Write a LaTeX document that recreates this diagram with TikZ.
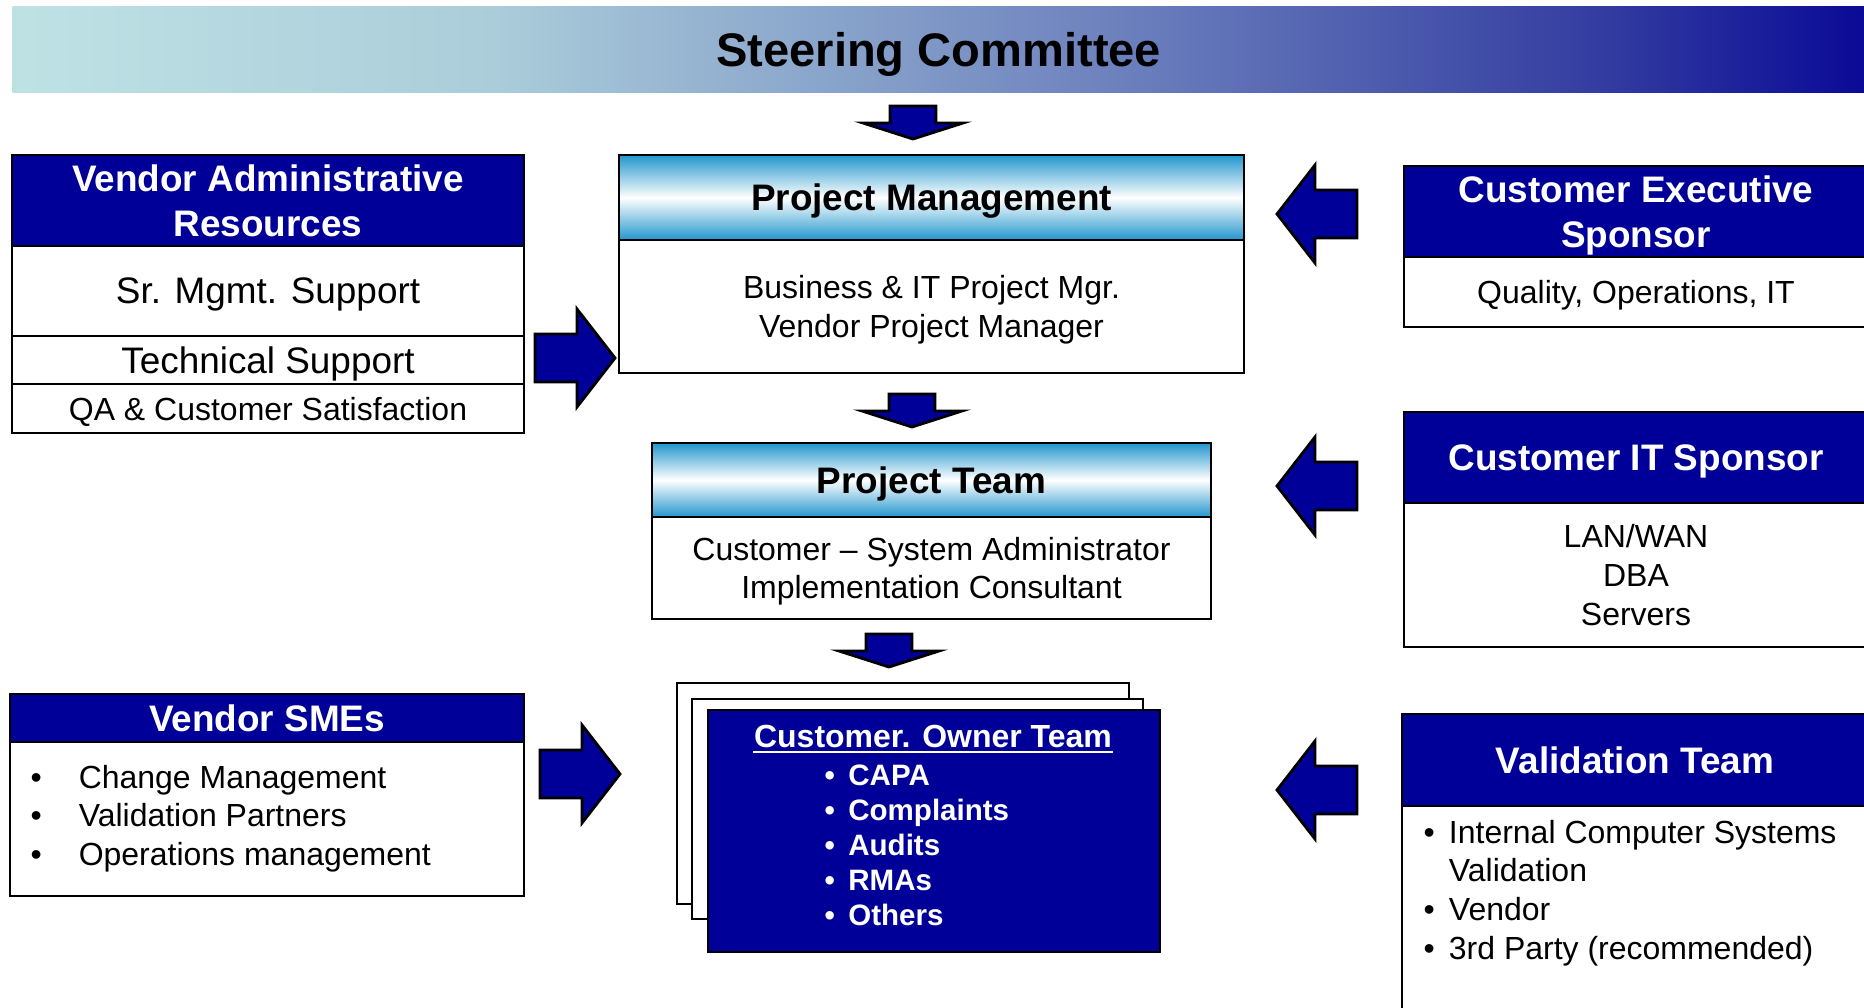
\documentclass[tikz,border=0pt]{standalone}
\usepackage{fontspec}
\setmainfont{Liberation Sans}

\definecolor{navy}{RGB}{0,0,153}
\definecolor{skyb}{RGB}{35,150,205}
\definecolor{bnA}{RGB}{190,226,228}
\definecolor{bnB}{RGB}{170,205,218}
\definecolor{bnC}{RGB}{110,130,190}
\definecolor{bnD}{RGB}{50,60,160}
\definecolor{bnE}{RGB}{10,10,150}
\pgfdeclarehorizontalshading{steershade}{100bp}{color(0bp)=(bnA); color(25bp)=(bnA); color(38bp)=(bnB); color(54.5bp)=(bnC); color(68bp)=(bnD); color(75bp)=(bnE); color(100bp)=(bnE)}

\newcommand{\steerfont}{\fontsize{13.4}{16}\selectfont\bfseries}
\newcommand{\hdrfont}{\fontsize{10.5}{12.8}\selectfont\bfseries}
\newcommand{\bigfont}{\fontsize{10.5}{12.8}\selectfont}
\newcommand{\bodyfont}{\fontsize{9.1}{11}\selectfont}
\newcommand{\listfont}{\fontsize{8.4}{10}\selectfont\bfseries}
\newcommand{\listhdfont}{\fontsize{9.1}{10}\selectfont\bfseries}

\tikzset{
  box/.style={draw=black, line width=0.7pt, anchor=north west, inner sep=0pt, outer sep=0pt, align=center, text depth=0pt},
  hdr/.style={box, fill=navy, text=white, font=\hdrfont},
  shadehdr/.style={box, top color=skyb, bottom color=skyb, middle color=white, font=\hdrfont},
  body/.style={box, fill=white, font=\bodyfont},
  blk/.style={draw=black, fill=navy, line width=0.8pt},
  downarr/.pic={\draw[blk] (-0.23,0) -- (0.23,0) -- (0.23,-0.17) -- (0.50,-0.17) -- (0,-0.33) -- (-0.50,-0.17) -- (-0.23,-0.17) -- cycle;},
  sidearr/.pic={\draw[blk] (0,0.24) -- (0.42,0.24) -- (0.42,0.49) -- (0.80,0) -- (0.42,-0.49) -- (0.42,-0.24) -- (0,-0.24) -- cycle;},
}

\begin{document}
\begin{tikzpicture}
    \useasboundingbox (0,0) rectangle (18.64,-10.07);

    % Steering committee banner
    \node[anchor=north west, minimum width=18.52cm, minimum height=0.86cm, inner sep=0pt, text depth=0pt, shading=steershade, font=\steerfont] (steer) at (0.12,-0.06) {Steering Committee};

    % Vendor administrative resources
    \node[hdr, minimum width=5.12cm, minimum height=0.91cm] (vadm) at (0.12,-1.55) {Vendor Administrative\\Resources};
    \node[body, font=\bigfont, minimum width=5.12cm, minimum height=0.90cm] (srm) at (vadm.south west) {Sr. Mgmt. Support};
    \node[body, font=\bigfont, minimum width=5.12cm, minimum height=0.48cm] (tech) at (srm.south west) {Technical Support};
    \node[body, minimum width=5.12cm, minimum height=0.49cm] (qa) at (tech.south west) {QA \& Customer Satisfaction};

    % Project management and project team
    \node[shadehdr, minimum width=6.25cm, minimum height=0.85cm] (pm) at (6.19,-1.55) {Project Management};
    \node[body, minimum width=6.25cm, minimum height=1.33cm] (pmb) at (pm.south west) {Business \& IT Project Mgr.\\Vendor Project Manager};
    \node[shadehdr, minimum width=5.59cm, minimum height=0.74cm] (pt) at (6.52,-4.43) {Project Team};
    \node[body, minimum width=5.59cm, minimum height=1.02cm] (ptb) at (pt.south west) {Customer – System Administrator\\Implementation Consultant};

    % Customer sponsors
    \node[hdr, minimum width=4.64cm, minimum height=0.91cm] (ces) at (14.04,-1.66) {Customer Executive\\Sponsor};
    \node[body, minimum width=4.64cm, minimum height=0.70cm] (cesb) at (ces.south west) {Quality, Operations, IT};
    \node[hdr, minimum width=4.64cm, minimum height=0.91cm] (cits) at (14.04,-4.12) {Customer IT Sponsor};
    \node[body, minimum width=4.64cm, minimum height=1.44cm] (citsb) at (cits.south west) {LAN/WAN\\DBA\\Servers};

    % Validation team
    \node[hdr, minimum width=4.66cm, minimum height=0.92cm] (vt) at (14.02,-7.14) {Validation Team};
    \node[body, minimum width=4.66cm, minimum height=2.30cm] (vtb) at (vt.south west) {};
    \node[anchor=north west, inner sep=0pt, font=\bodyfont] (vtl) at (14.23,-8.155) {\begin{tabular}{@{}l@{\hspace{4pt}}l@{}}\textbullet & Internal Computer Systems\\ & Validation\\ \textbullet & Vendor\\ \textbullet & 3rd Party (recommended)\end{tabular}};

    % Vendor SMEs
    \node[hdr, minimum width=5.14cm, minimum height=0.48cm] (sme) at (0.10,-6.94) {Vendor SMEs};
    \node[body, minimum width=5.14cm, minimum height=1.54cm] (smeb) at (sme.south west) {};
    \node[anchor=north west, inner sep=0pt, font=\bodyfont] (smel) at (0.30,-7.605) {\begin{tabular}{@{}l@{\hspace{10.5pt}}l@{}}\textbullet & Change Management\\ \textbullet & Validation Partners\\ \textbullet & Operations management\end{tabular}};

    % Customer owner team (stacked sheets)
    \node[body, minimum width=4.52cm, minimum height=2.21cm] (cot3) at (6.77,-6.83) {};
    \node[body, minimum width=4.51cm, minimum height=2.20cm] (cot2) at (6.92,-6.99) {};
    \node[hdr, minimum width=4.52cm, minimum height=2.42cm] (cot) at (7.08,-7.10) {};
    \node[font=\listhdfont, text=white, inner sep=0pt] (cott) at (9.33,-7.36) {Customer. Owner Team};
    \draw[white, line width=0.8pt] ([yshift=-0.04cm]cott.south west) -- ([yshift=-0.04cm]cott.south east);
    \node[anchor=north west, inner sep=0pt, font=\listfont, text=white] (cotl) at (8.24,-7.60) {\begin{tabular}{@{}l@{\hspace{3.8pt}}l@{}}\textbullet & CAPA\\ \textbullet & Complaints\\ \textbullet & Audits\\ \textbullet & RMAs\\ \textbullet & Others\end{tabular}};

    % Block arrows
    \pic at (9.13,-1.06) {downarr};
    \pic at (9.12,-3.94) {downarr};
    \pic at (8.89,-6.34) {downarr};
    \pic at (5.35,-3.58) {sidearr};
    \pic at (5.40,-7.74) {sidearr};
    \pic[rotate=180] at (13.57,-2.14) {sidearr};
    \pic[rotate=180] at (13.57,-4.86) {sidearr};
    \pic[rotate=180] at (13.57,-7.90) {sidearr};
\end{tikzpicture}
\end{document}
